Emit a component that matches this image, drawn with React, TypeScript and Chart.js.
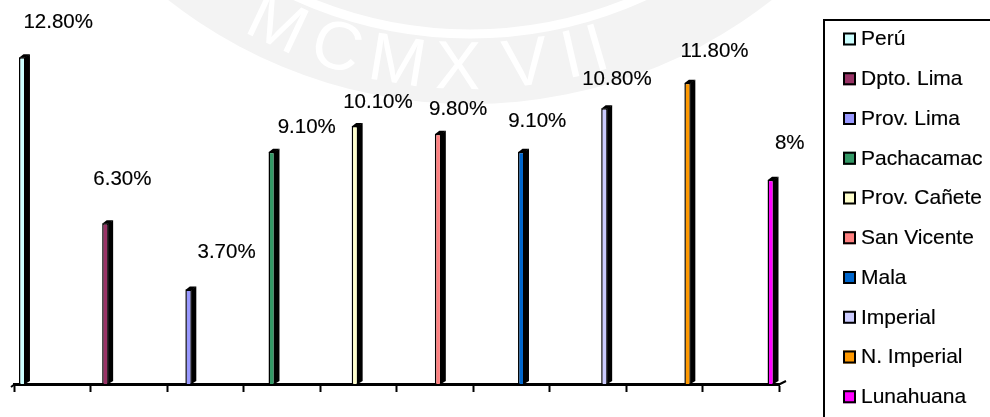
import { useEffect, useRef } from "react";
import { Chart, registerables } from "chart.js";

Chart.register(...registerables);

// Districts compared (one series per district, each shown in its own slot)
const categories = [
  "Perú",
  "Dpto. Lima",
  "Prov. Lima",
  "Pachacamac",
  "Prov. Cañete",
  "San Vicente",
  "Mala",
  "Imperial",
  "N. Imperial",
  "Lunahuana",
];

// Rate per district, in percent
const rates = [12.8, 6.3, 3.7, 9.1, 10.1, 9.8, 9.1, 10.8, 11.8, 8];

// Text printed above each bar
const rateLabels = [
  "12.80%",
  "6.30%",
  "3.70%",
  "9.10%",
  "10.10%",
  "9.80%",
  "9.10%",
  "10.80%",
  "11.80%",
  "8%",
];

const seriesColors = [
  "#CCFFFF",
  "#993366",
  "#9999FF",
  "#339966",
  "#FFFFCC",
  "#FF8080",
  "#0066CC",
  "#CCCCFF",
  "#FF9900",
  "#FF00FF",
];

const FONT = "'Liberation Sans', Arial, Helvetica, sans-serif";

// Hand-placed label offsets (dx, dy) from the top centre of each bar
const labelNudge: [number, number][] = [
  [36, -35],
  [17, -44],
  [38, -37.5],
  [35, -24],
  [23, -24],
  [20, -24],
  [16, -30],
  [12.5, -28.5],
  [27, -31],
  [19, -36],
];

// Text with a hairline outline so it reads a touch darker
function inkText(ctx: CanvasRenderingContext2D, text: string, x: number, y: number) {
  ctx.fillText(text, x, y);
  ctx.lineWidth = 0.15;
  ctx.strokeStyle = "#000000";
  ctx.strokeText(text, x, y);
}

// Faint university seal printed behind the plot
const sealPlugin = {
  id: "seal",
  beforeDraw(chart: Chart) {
    const ctx = chart.ctx;
    const cx = 470;
    const cy = -386;
    ctx.save();
    ctx.fillStyle = "#ffffff";
    ctx.fillRect(0, 0, chart.width, chart.height);
    ctx.beginPath();
    ctx.arc(cx, cy, 490, 0, Math.PI * 2);
    ctx.fillStyle = "#f3f3f3";
    ctx.fill();
    ctx.beginPath();
    ctx.arc(cx, cy, 420, 0, Math.PI * 2);
    ctx.strokeStyle = "#ffffff";
    ctx.lineWidth = 9;
    ctx.stroke();
    const letters = ["M", "C", "M", "X", "V", "I", "I"];
    const xs = [276, 336, 397, 458, 526, 572, 598];
    const r = 456;
    ctx.fillStyle = "#ffffff";
    ctx.font = `68px ${FONT}`;
    ctx.textAlign = "center";
    ctx.textBaseline = "middle";
    letters.forEach((ch, i) => {
      const th = Math.asin((xs[i] - cx) / r);
      const px = cx + r * Math.sin(th);
      const py = cy + r * Math.cos(th);
      ctx.save();
      ctx.translate(px, py);
      ctx.rotate(-th);
      ctx.fillText(ch, 0, 0);
      ctx.restore();
    });
    ctx.restore();
  },
};

// Depth faces, value labels, floor stubs and the framed legend
const decorPlugin = {
  id: "decor",
  afterDatasetsDraw(chart: Chart) {
    const ctx = chart.ctx;
    const dx = 4.5;
    const dy = 3;
    ctx.save();
    chart.data.datasets.forEach((ds, di) => {
      const meta = chart.getDatasetMeta(di);
      meta.data.forEach((el: any, idx: number) => {
        const v = (ds.data as (number | null)[])[idx];
        if (v === null || v === undefined) return;
        const { x, y, base, width } = el.getProps(["x", "y", "base", "width"], true);
        const left = x - width / 2;
        const right = x + width / 2;
        ctx.fillStyle = "#000000";
        ctx.beginPath();
        ctx.moveTo(right - 0.5, y);
        ctx.lineTo(right + dx, y - dy);
        ctx.lineTo(right + dx, base - dy);
        ctx.lineTo(right - 0.5, base);
        ctx.closePath();
        ctx.fill();
        ctx.beginPath();
        ctx.moveTo(left, y + 0.5);
        ctx.lineTo(left + dx, y - dy);
        ctx.lineTo(right + dx, y - dy);
        ctx.lineTo(right, y + 0.5);
        ctx.closePath();
        ctx.fill();

        const [nx, ny] = labelNudge[idx];
        ctx.font = `20.5px ${FONT}`;
        ctx.textAlign = "center";
        ctx.textBaseline = "middle";
        inkText(ctx, rateLabels[idx], x + nx, y + ny);
      });
    });

    // floor edges at both ends of the category axis
    const area = chart.chartArea;
    ctx.strokeStyle = "#000000";
    ctx.lineWidth = 2;
    ctx.beginPath();
    ctx.moveTo(area.left - 3, area.bottom + 3);
    ctx.lineTo(area.left + 1, area.bottom);
    ctx.moveTo(area.right - 1, area.bottom + 1);
    ctx.lineTo(area.right + 7, area.bottom - 3);
    ctx.stroke();
    ctx.restore();
  },
  afterDraw(chart: Chart) {
    const ctx = chart.ctx;
    ctx.save();
    ctx.strokeStyle = "#000000";
    ctx.lineWidth = 2;
    ctx.strokeRect(824, 20, 200, 420);
    ctx.font = `21px ${FONT}`;
    ctx.textAlign = "left";
    ctx.textBaseline = "middle";
    chart.data.datasets.forEach((ds, i) => {
      const cy = 39 + i * 39.75;
      ctx.fillStyle = ds.backgroundColor as string;
      ctx.fillRect(843, cy - 6.5, 13, 13);
      ctx.lineWidth = 2;
      ctx.strokeStyle = "#000000";
      ctx.strokeRect(844, cy - 5.5, 11, 11);
      ctx.fillStyle = "#000000";
      inkText(ctx, ds.label as string, 861, cy + 0.5);
    });
    ctx.restore();
  },
};

export default function App() {
  const canvasRef = useRef<HTMLCanvasElement | null>(null);

  useEffect(() => {
    document.body.style.margin = "0";
    const canvas = canvasRef.current;
    if (!canvas) return;
    const datasets = categories.map((name, i) => ({
      label: name,
      data: categories.map((_, j) => (j === i ? rates[i] : null)),
      backgroundColor: seriesColors[i],
      borderColor: "#000000",
      borderWidth: 1.5,
      categoryPercentage: 0.872,
      barPercentage: 0.97,
    }));
    const chart = new Chart(canvas, {
      type: "bar",
      data: { labels: categories, datasets },
      options: {
        animation: false,
        responsive: false,
        maintainAspectRatio: false,
        layout: { padding: { left: 14, right: 211, top: 1, bottom: 0 } },
        plugins: {
          legend: { display: false },
          tooltip: { enabled: false },
        },
        scales: {
          x: {
            grid: {
              display: true,
              drawOnChartArea: false,
              drawTicks: true,
              tickLength: 8,
              tickWidth: 2,
              tickColor: "#000000",
              offset: true,
            },
            border: { display: true, color: "#000000", width: 3 },
            ticks: { display: false },
            afterFit: (scale: any) => {
              scale.height = 33;
            },
          },
          y: { display: false, min: 0, max: 15 },
        },
      },
      plugins: [sealPlugin, decorPlugin],
    });
    return () => chart.destroy();
  }, []);

  return (
    <div style={{ position: "fixed", left: 0, top: 0, width: 990, height: 417 }}>
      <canvas ref={canvasRef} width={990} height={417} style={{ display: "block" }} />
    </div>
  );
}
